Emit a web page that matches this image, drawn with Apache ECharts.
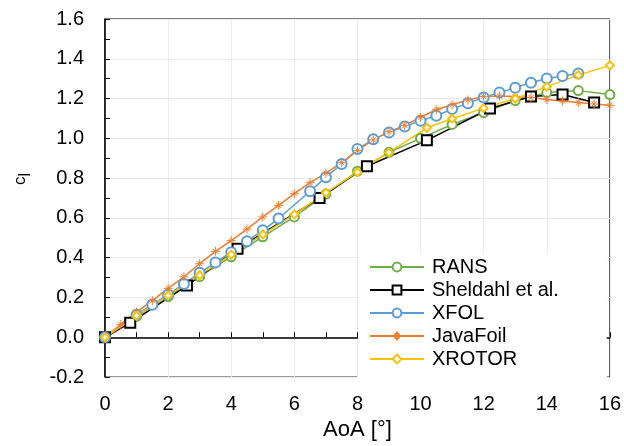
<!DOCTYPE html>
<html>
<head>
<meta charset="utf-8">
<script src="https://cdn.jsdelivr.net/npm/echarts@6/dist/echarts.min.js"></script>
<style>html,body{margin:0;padding:0;background:#fff}#c{width:624px;height:446px}</style>
</head>
<body>
<div id="c"></div>
<script>
// ---- data ----
const seriesNames = ['RANS', 'Sheldahl et al.', 'XFOL', 'JavaFoil', 'XROTOR'];

const ransAoA = [0, 1, 2, 3, 4, 5, 6, 7, 8, 9, 10, 11, 12, 13, 14, 15, 16];
const ransCl  = [0, 0.105, 0.205, 0.305, 0.405, 0.505, 0.605, 0.72, 0.835, 0.93, 1.0, 1.07, 1.13, 1.19, 1.23, 1.24, 1.22];

const sheldahlAoA = [0, 0.8, 2.6, 4.2, 6.8, 8.3, 10.2, 12.2, 13.5, 14.5, 15.5];
const sheldahlCl  = [0, 0.073, 0.26, 0.445, 0.70, 0.86, 0.99, 1.15, 1.21, 1.22, 1.18];

const xfolAoA = [0, 1, 1.5, 2, 2.5, 3, 3.5, 4, 4.5, 5, 5.5, 6.5, 7, 7.5, 8, 8.5, 9, 9.5, 10, 10.5, 11, 11.5, 12, 12.5, 13, 13.5, 14, 14.5, 15];
const xfolCl  = [0, 0.114, 0.164, 0.214, 0.268, 0.324, 0.376, 0.428, 0.483, 0.538, 0.597, 0.734, 0.805, 0.871, 0.946, 0.995, 1.03, 1.06, 1.089, 1.114, 1.147, 1.177, 1.205, 1.23, 1.255, 1.28, 1.301, 1.314, 1.326];

const javaAoA = [0, 0.5, 1, 1.5, 2, 2.5, 3, 3.5, 4, 4.5, 5, 5.5, 6, 6.5, 7, 7.5, 8, 8.5, 9, 9.5, 10, 10.5, 11, 11.5, 12, 12.5, 13, 13.5, 14, 14.5, 15, 15.5, 16];
const javaCl  = [0, 0.065, 0.127, 0.184, 0.246, 0.304, 0.37, 0.432, 0.486, 0.544, 0.605, 0.663, 0.722, 0.777, 0.825, 0.878, 0.938, 0.992, 1.034, 1.065, 1.106, 1.144, 1.169, 1.193, 1.21, 1.213, 1.21, 1.205, 1.195, 1.188, 1.18, 1.173, 1.166];

const xrotorAoA = [0, 1, 2, 3, 4, 5, 6, 7, 8, 9, 10.2, 11, 12, 13, 14, 15, 16];
const xrotorCl  = [0, 0.108, 0.21, 0.312, 0.415, 0.517, 0.618, 0.726, 0.83, 0.929, 1.053, 1.099, 1.152, 1.20, 1.26, 1.318, 1.367];

const xTicks = [0, 2, 4, 6, 8, 10, 12, 14, 16];
const yTicks = [-0.2, 0, 0.2, 0.4, 0.6, 0.8, 1.0, 1.2, 1.4, 1.6];

// ---- helpers ----
const zip = (xs, ys) => xs.map((x, i) => [x, ys[i]]);
const FONT = '"Liberation Sans", Arial, sans-serif';

const chart = echarts.init(document.getElementById('c'), null, {renderer: 'canvas'});

function lineSeries(name, xs, ys, color, symbol, size, extra) {
  return Object.assign({
    name: name,
    type: 'line',
    data: zip(xs, ys),
    symbol: symbol,
    symbolSize: size,
    showAllSymbol: true,
    lineStyle: {color: color, width: 1.5},
    itemStyle: {color: color, borderColor: color, borderWidth: 1.5},
    emphasis: {disabled: true},
    animation: false
  }, extra || {});
}

const option = {
  animation: false,
  backgroundColor: '#fff',
  textStyle: {fontFamily: FONT},
  grid: {left: 105, right: 13, top: 19, bottom: 64, show: true, borderColor: '#000', borderWidth: 1, backgroundColor: 'transparent'},
  xAxis: {
    type: 'value',
    min: xTicks[0], max: xTicks[xTicks.length - 1], interval: 2,
    name: 'AoA [°]', nameLocation: 'middle', nameGap: 40,
    nameTextStyle: {fontSize: 22, color: '#000', fontFamily: FONT},
    axisLine: {show: true, lineStyle: {color: '#000', width: 1.5}},
    axisTick: {show: true, inside: true, length: 5, lineStyle: {color: '#000', width: 1}},
    minorTick: {show: true, splitNumber: 2, length: 5, lineStyle: {color: '#000', width: 1}},
    axisLabel: {fontSize: 20, color: '#000', margin: 17, fontFamily: FONT},
    splitLine: {show: true, lineStyle: {color: '#ebebeb', width: 1}}
  },
  yAxis: {
    type: 'value',
    min: yTicks[0], max: yTicks[yTicks.length - 1], interval: 0.2,
    axisLine: {show: true, onZero: false, lineStyle: {color: '#000', width: 1.5}},
    axisTick: {show: true, inside: true, length: 5, lineStyle: {color: '#000', width: 1}},
    minorTick: {show: true, splitNumber: 2, length: 5, lineStyle: {color: '#000', width: 1}},
    axisLabel: {fontSize: 20, color: '#000', margin: 21, fontFamily: FONT,
      formatter: v => v.toFixed(1)},
    splitLine: {show: true, lineStyle: {color: '#ebebeb', width: 1}}
  },
  legend: {
    orient: 'vertical',
    left: 358, top: 253,
    padding: [4, 48, 12, 11],
    backgroundColor: '#fff',
    itemWidth: 54, itemHeight: 11, itemGap: 3,
    textStyle: {fontSize: 20, color: '#000', fontFamily: FONT, lineHeight: 20, padding: [0, 0, 0, 3]},
    selectedMode: false,
    data: seriesNames
  },
  graphic: [{
    type: 'text',
    x: 20, y: 179,
    rotation: Math.PI / 2,
    style: {
      text: '{a|c}{b|l}',
      align: 'center', verticalAlign: 'middle',
      fill: '#000',
      rich: {
        a: {fontSize: 17, fontFamily: FONT, fill: '#000'},
        b: {fontSize: 16, fontFamily: FONT, fill: '#000', padding: [12, 0, 0, 0]}
      }
    }
  }],
  series: [
    lineSeries(seriesNames[0], ransAoA, ransCl, '#70AD47', 'emptyCircle', 9),
    lineSeries(seriesNames[1], sheldahlAoA, sheldahlCl, '#000000', 'emptyRect', 10,
      {itemStyle: {color: '#000', borderColor: '#000', borderWidth: 2}}),
    lineSeries(seriesNames[2], xfolAoA, xfolCl, '#5B9BD5', 'emptyCircle', 10),
    lineSeries(seriesNames[3], javaAoA, javaCl, '#ED7D31',
      'path://M5,0L5,10M0,5L10,5M2.2,2.2L7.8,7.8M7.8,2.2L2.2,7.8', 9,
      {itemStyle: {color: 'none', borderColor: '#ED7D31', borderWidth: 1}}),
    lineSeries(seriesNames[4], xrotorAoA, xrotorCl, '#FFC000', 'emptyDiamond', 8)
  ]
};
chart.setOption(option);
</script>
</body>
</html>
